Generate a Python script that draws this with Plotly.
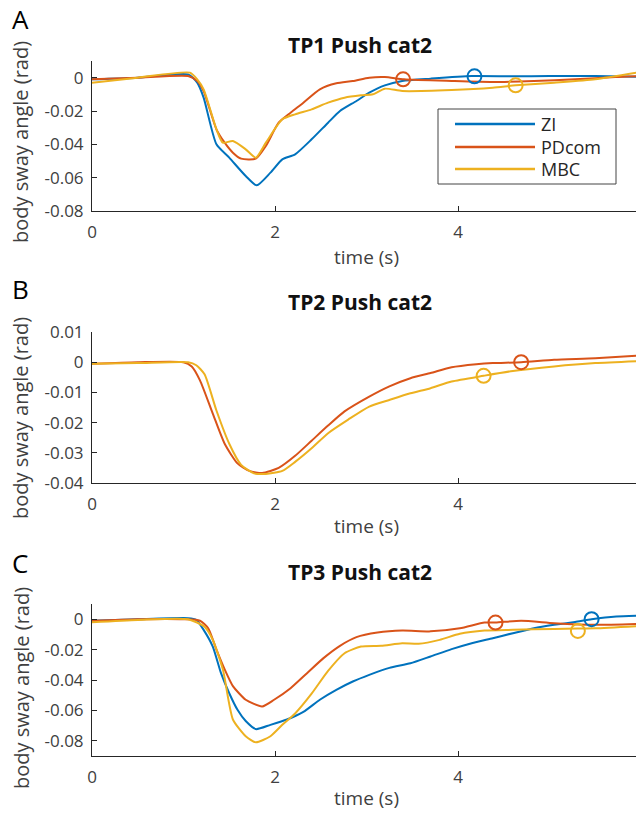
import plotly.graph_objects as go

# ---------------- data ----------------
series_names = ["ZI", "PDcom", "MBC"]
colors = {"ZI": "#0072BD", "PDcom": "#D95319", "MBC": "#EDB120"}

# Panel A (TP1)
tA_ZI = [0, 0.5, 1.05, 1.15, 1.22, 1.36, 1.5, 1.68, 1.8, 1.95, 2.08, 2.22, 2.4, 2.58, 2.71, 2.89, 3.03, 3.2, 3.39, 3.7, 4.15, 4.6, 5.0, 5.5, 6.0]
yA_ZI = [-0.001, 0.0, 0.002, -0.003, -0.012, -0.04, -0.048, -0.059, -0.0646, -0.057, -0.049, -0.046, -0.037, -0.027, -0.02, -0.014, -0.009, -0.0046, -0.002, -0.0006, 0.001, 0.0008, 0.001, 0.001, 0.0005]
tA_PD = [0, 0.5, 1.05, 1.15, 1.22, 1.36, 1.45, 1.54, 1.63, 1.79, 1.9, 2.04, 2.17, 2.31, 2.49, 2.67, 2.85, 3.03, 3.2, 3.41, 3.93, 4.38, 4.83, 5.28, 5.72, 6.0]
yA_PD = [-0.001, 0.0, 0.001, -0.002, -0.008, -0.031, -0.039, -0.045, -0.0486, -0.0486, -0.041, -0.027, -0.021, -0.015, -0.007, -0.0034, -0.002, 0.0, 0.0004, -0.001, -0.002, -0.0026, -0.002, -0.001, 0.0004, 0.001]
tA_MBC = [0, 0.5, 1.07, 1.15, 1.22, 1.36, 1.43, 1.54, 1.68, 1.79, 1.9, 2.08, 2.22, 2.4, 2.58, 2.76, 2.94, 3.07, 3.2, 3.39, 3.93, 4.38, 4.63, 5.05, 5.5, 6.0]
yA_MBC = [-0.003, 0.0, 0.003, -0.001, -0.007, -0.031, -0.039, -0.038, -0.043, -0.048, -0.039, -0.025, -0.022, -0.019, -0.015, -0.012, -0.0106, -0.01, -0.0066, -0.008, -0.0074, -0.006, -0.0046, -0.003, -0.001, 0.0034]
mA = {"ZI": (4.18, 0.0008), "PDcom": (3.4, -0.001), "MBC": (4.63, -0.0046)}

# Panel B (TP2)
tB_PD = [0, 0.5, 1.0, 1.09, 1.18, 1.32, 1.45, 1.59, 1.72, 1.86, 2.04, 2.22, 2.4, 2.58, 2.76, 3.03, 3.25, 3.48, 3.7, 3.93, 4.2, 4.38, 4.69, 5.05, 5.5, 6.0]
yB_PD = [-0.0005, 0.0, 0.0, -0.0014, -0.006, -0.017, -0.027, -0.0335, -0.036, -0.0367, -0.035, -0.031, -0.026, -0.021, -0.0163, -0.0114, -0.008, -0.0053, -0.0036, -0.0017, -0.0007, -0.0003, 0.0, 0.0008, 0.0013, 0.0022]
tB_MBC = [0, 0.5, 1.05, 1.14, 1.23, 1.36, 1.5, 1.63, 1.77, 1.9, 2.08, 2.22, 2.4, 2.58, 2.8, 3.03, 3.25, 3.48, 3.7, 3.93, 4.28, 4.6, 5.05, 5.5, 6.0]
yB_MBC = [-0.0005, -0.0003, 0.0, -0.001, -0.004, -0.016, -0.027, -0.034, -0.0368, -0.037, -0.036, -0.033, -0.0285, -0.0235, -0.019, -0.0147, -0.0125, -0.0103, -0.0086, -0.0064, -0.0045, -0.0029, -0.0014, -0.0003, 0.0004]
mB = {"PDcom": (4.69, 0.0), "MBC": (4.28, -0.0045)}

# Panel C (TP3)
tC_ZI = [0, 0.5, 1.05, 1.14, 1.22, 1.32, 1.41, 1.5, 1.59, 1.68, 1.79, 1.95, 2.13, 2.31, 2.49, 2.67, 2.85, 3.03, 3.25, 3.48, 3.7, 3.93, 4.15, 4.38, 4.6, 4.83, 5.05, 5.28, 5.46, 5.73, 6.0]
yC_ZI = [-0.001, 0.0, 0.0007, -0.0004, -0.007, -0.018, -0.0355, -0.0487, -0.0596, -0.067, -0.0723, -0.0695, -0.066, -0.061, -0.053, -0.0465, -0.041, -0.0366, -0.032, -0.029, -0.0245, -0.0197, -0.0158, -0.0125, -0.0092, -0.0059, -0.0037, -0.0018, 0.0, 0.0018, 0.0024]
tC_PD = [0, 0.5, 1.0, 1.18, 1.27, 1.36, 1.45, 1.54, 1.68, 1.86, 1.99, 2.17, 2.35, 2.53, 2.71, 2.89, 3.12, 3.39, 3.7, 4.02, 4.29, 4.41, 4.69, 5.05, 5.5, 6.0]
yC_PD = [-0.001, 0.0, 0.0, -0.001, -0.006, -0.02, -0.033, -0.044, -0.053, -0.0574, -0.053, -0.0454, -0.0355, -0.0256, -0.0175, -0.0118, -0.0088, -0.0075, -0.008, -0.006, -0.0022, -0.0022, -0.001, -0.0026, -0.0037, -0.003]
tC_MBC = [0, 0.5, 1.05, 1.23, 1.32, 1.43, 1.54, 1.68, 1.79, 1.95, 2.08, 2.22, 2.4, 2.58, 2.76, 2.94, 3.16, 3.39, 3.57, 3.8, 4.02, 4.29, 4.6, 5.05, 5.31, 5.5, 6.0]
yC_MBC = [-0.002, -0.0005, 0.0, -0.005, -0.0136, -0.033, -0.066, -0.077, -0.081, -0.077, -0.0695, -0.062, -0.049, -0.034, -0.0224, -0.018, -0.0175, -0.0158, -0.0162, -0.0136, -0.0096, -0.0075, -0.007, -0.0064, -0.0062, -0.006, -0.0044]
mC = {"ZI": (5.46, 0.0), "PDcom": (4.41, -0.0022), "MBC": (5.31, -0.0077)}

titles = ["TP1 Push cat2", "TP2 Push cat2", "TP3 Push cat2"]
panel_letters = ["A", "B", "C"]
x_ticks = [0, 2, 4, 6]
yticksA = [0, -0.02, -0.04, -0.06, -0.08]
yticksB = [0.01, 0, -0.01, -0.02, -0.03, -0.04]
yticksC = [0, -0.02, -0.04, -0.06, -0.08]
yrangeA = [-0.08, 0.01]
yrangeB = [-0.04, 0.01]
yrangeC = [-0.09, 0.01]

panels = [
    {"lines": [("ZI", tA_ZI, yA_ZI), ("PDcom", tA_PD, yA_PD), ("MBC", tA_MBC, yA_MBC)], "marks": mA,
     "yticks": yticksA, "yrange": yrangeA},
    {"lines": [("PDcom", tB_PD, yB_PD), ("MBC", tB_MBC, yB_MBC)], "marks": mB,
     "yticks": yticksB, "yrange": yrangeB},
    {"lines": [("ZI", tC_ZI, yC_ZI), ("PDcom", tC_PD, yC_PD), ("MBC", tC_MBC, yC_MBC)], "marks": mC,
     "yticks": yticksC, "yrange": yrangeC},
]

# ---------------- layout geometry (page pixels, body margin 8px) ----------------
OFF = 8
W, H = 644 - OFF, 813 - OFF


def px(x):
    return (x - OFF) / W


def py(y):
    return 1 - (y - OFF) / H


xdom = [px(92), px(641)]
ydoms = [[py(211), py(61)], [py(483), py(332)], [py(756), py(604)]]
title_y = [45, 302, 572]
title_x = 360
letter_y = [19, 289, 563]
ylab_y = [142, 418, 688]
xlab_y = [257, 526, 798]

FONT = "Open Sans"
AX = "#262626"
TICK = "#404040"

fig = go.Figure()
layout = dict(
    width=W, height=H, margin=dict(l=0, r=0, t=0, b=0),
    paper_bgcolor="white", plot_bgcolor="white",
    font=dict(family=FONT, size=16, color=TICK),
    showlegend=False,
)

annotations = []
shapes = []
for i, p in enumerate(panels):
    xa = "x" if i == 0 else f"x{i+1}"
    ya = "y" if i == 0 else f"y{i+1}"
    for name, t, y in p["lines"]:
        fig.add_trace(go.Scatter(x=t, y=y, mode="lines", name=name, xaxis=xa, yaxis=ya,
                                 line=dict(color=colors[name], width=2, shape="spline", smoothing=0.6)))
    for name, (mx, my) in p["marks"].items():
        fig.add_trace(go.Scatter(x=[mx], y=[my], mode="markers", name=name, xaxis=xa, yaxis=ya,
                                 marker=dict(symbol="circle-open", size=14, color=colors[name],
                                             line=dict(width=2, color=colors[name]))))
    axsuffix = "" if i == 0 else str(i + 1)
    layout["xaxis" + axsuffix] = dict(
        domain=xdom, range=[0, 6], anchor=ya, tickvals=x_ticks, ticktext=[str(v) for v in x_ticks],
        showline=True, linecolor=AX, linewidth=1, ticks="inside", ticklen=5, tickcolor=AX,
        showgrid=False, zeroline=False, tickfont=dict(size=17, color=TICK),
        ticklabelstandoff=6, ticklabeloverflow="allow", automargin=False)
    layout["yaxis" + axsuffix] = dict(
        domain=ydoms[i], range=p["yrange"], anchor=xa, tickvals=p["yticks"],
        ticktext=[("0" if v == 0 else f"{v:g}") for v in p["yticks"]],
        showline=True, linecolor=AX, linewidth=1, ticks="inside", ticklen=5, tickcolor=AX,
        showgrid=False, zeroline=False, tickfont=dict(size=17, color=TICK),
        ticklabelstandoff=4, automargin=False)
    annotations.append(dict(text=f"<b>{titles[i]}</b>", x=px(title_x), y=py(title_y[i]),
                            xref="paper", yref="paper", showarrow=False, xanchor="center", yanchor="middle",
                            font=dict(size=21, color="#111111", family=FONT)))
    annotations.append(dict(text=panel_letters[i], x=px(20), y=py(letter_y[i]), xref="paper", yref="paper",
                            showarrow=False, xanchor="center", yanchor="middle",
                            font=dict(size=26, color="#000000", family=FONT)))
    annotations.append(dict(text="body sway angle (rad)", x=px(21), y=py(ylab_y[i]), xref="paper", yref="paper",
                            showarrow=False, xanchor="center", yanchor="middle", textangle=-90,
                            font=dict(size=20, color=TICK, family=FONT)))
    annotations.append(dict(text="time (s)", x=(xdom[0] + xdom[1]) / 2, y=py(xlab_y[i]), xref="paper", yref="paper",
                            showarrow=False, xanchor="center", yanchor="middle",
                            font=dict(size=19, color=TICK, family=FONT)))

# legend box for panel A (drawn as shapes + text)
leg_box = (438, 109, 616, 184)
leg_rows = [124, 147, 169]
shapes.append(dict(type="rect", xref="paper", yref="paper",
                   x0=px(leg_box[0]), x1=px(leg_box[2]), y0=py(leg_box[3]), y1=py(leg_box[1]),
                   line=dict(color="#444444", width=1), fillcolor="white", layer="above"))
for name, ry in zip(series_names, leg_rows):
    shapes.append(dict(type="line", xref="paper", yref="paper", x0=px(455), x1=px(535),
                       y0=py(ry), y1=py(ry), line=dict(color=colors[name], width=2.5), layer="above"))
    annotations.append(dict(text=name, x=px(540), y=py(ry), xref="paper", yref="paper", showarrow=False,
                            xanchor="left", yanchor="middle", height=20, borderpad=0,
                            font=dict(size=18, color="#262626", family=FONT)))

layout["annotations"] = annotations
layout["shapes"] = shapes
fig.update_layout(**layout)
fig.write_html("out.html")
